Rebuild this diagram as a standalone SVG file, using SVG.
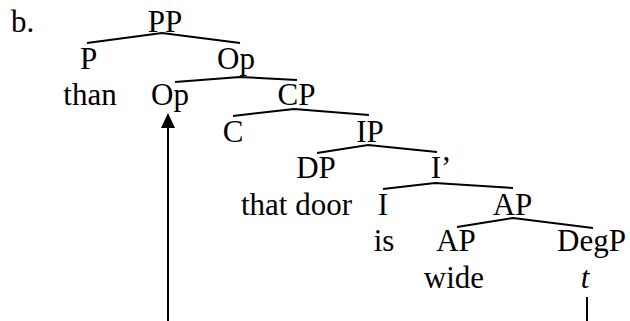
<svg xmlns="http://www.w3.org/2000/svg" width="630" height="321" viewBox="0 0 630 321">
<style>
.lbl text{font-family:'Liberation Serif','Times New Roman',Times,serif;font-size:31px;fill:#000;text-anchor:middle}
.e{stroke:#000;stroke-width:2;fill:none}
</style>
<rect width="630" height="321" fill="#fff"/>
<g class="lbl" font-family="Liberation Serif, serif">
<text x="11" y="32" style="text-anchor:start">b.</text>
<g id="n-PP"><text x="165" y="32">PP</text></g>
<g id="n-P"><text x="88.5" y="68.5">P</text></g>
<g id="n-Op1"><text x="236" y="68.5">Op</text></g>
<g id="n-than"><text x="90" y="105">than</text></g>
<g id="n-Op2"><text x="170" y="105">Op</text></g>
<g id="n-CP"><text x="296.5" y="105">CP</text></g>
<g id="n-C"><text x="233" y="141.5">C</text></g>
<g id="n-IP"><text x="370" y="141.5">IP</text></g>
<g id="n-DP"><text x="316" y="178">DP</text></g>
<g id="n-Ibar"><text x="441" y="178">I’</text></g>
<g id="n-thatdoor"><text x="296.5" y="214.5">that door</text></g>
<g id="n-I"><text x="383" y="214.5">I</text></g>
<g id="n-AP1"><text x="512.5" y="214.5">AP</text></g>
<g id="n-is"><text x="384" y="251">is</text></g>
<g id="n-AP2"><text x="456" y="251">AP</text></g>
<g id="n-DegP"><text x="591.5" y="251">DegP</text></g>
<g id="n-wide"><text x="454" y="287.5">wide</text></g>
<g id="n-t"><text x="585" y="287.5" font-style="italic">t</text></g>
</g>
<g id="connectors">
<polyline class="e" points="87,43 162,33 240,43"/>
<polyline class="e" points="175,82 240,77 297,80"/>
<polyline class="e" points="233,116 294,109 369,115"/>
<polyline class="e" points="317,153 368,145 437,152"/>
<polyline class="e" points="383,189 435,183 513,188"/>
<polyline class="e" points="457,227 513,218 593,228"/>
<line class="e" x1="168" y1="321" x2="168" y2="126"/>
<polygon points="168,113 161,128 175,128" fill="#000"/>
<line class="e" x1="587" y1="297" x2="587" y2="321" stroke-width="1.5"/>
</g>
</svg>
